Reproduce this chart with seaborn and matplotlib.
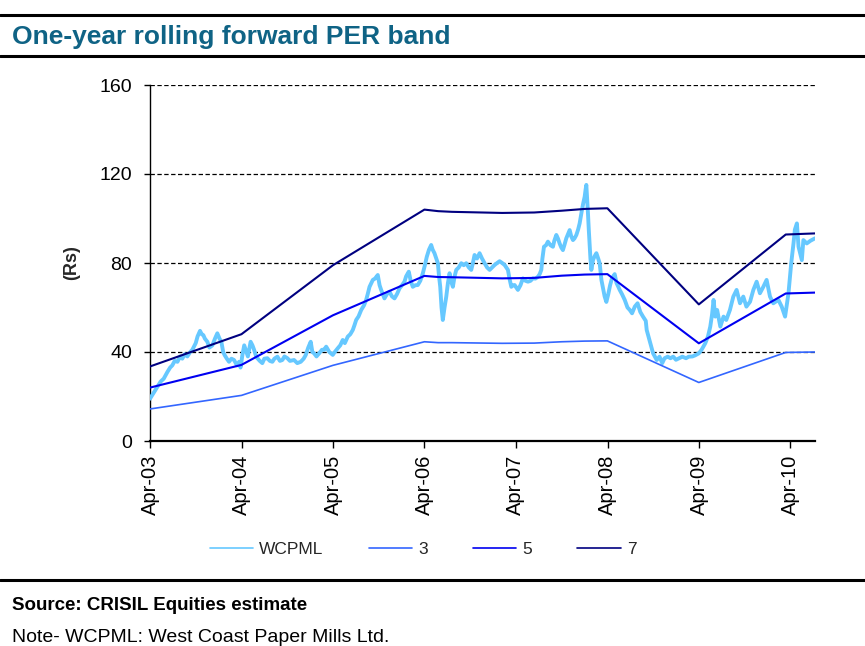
import numpy as np
import pandas as pd
import matplotlib
matplotlib.use("Agg")
import matplotlib.pyplot as plt
import matplotlib.dates as mdates
from matplotlib.lines import Line2D
import seaborn as sns

# ---------------- data ----------------
# time measured in years since Apr-2003
band_t = [0.0, 1.0, 2.0, 3.0, 3.15, 3.3, 3.85, 4.2, 4.5, 4.75, 5.0, 6.0, 6.95, 7.27]
band7 = [33.5, 48.0, 79.0, 104.0, 103.3, 103.0, 102.5, 102.7, 103.5, 104.3, 104.6, 61.4, 92.8, 93.3]
band5 = [24.0, 34.2, 56.5, 74.2, 73.7, 73.6, 73.1, 73.3, 74.3, 74.8, 75.0, 43.9, 66.3, 66.7]
band3 = [14.4, 20.5, 34.0, 44.6, 44.2, 44.2, 43.9, 44.0, 44.6, 44.9, 45.0, 26.3, 39.8, 40.0]

price_t = [0.00, 0.03, 0.06, 0.09, 0.116, 0.15, 0.19, 0.22, 0.244, 0.27, 0.30, 0.33, 0.353, 0.38,
           0.408, 0.44, 0.463, 0.5, 0.52, 0.547, 0.565, 0.583, 0.6, 0.627, 0.65, 0.682, 0.71,
           0.736, 0.76, 0.78, 0.80, 0.816, 0.84, 0.864, 0.89, 0.919, 0.95, 0.974, 0.99, 1.01,
           1.03, 1.046, 1.07, 1.1, 1.12, 1.138, 1.16, 1.174, 1.2, 1.228, 1.25, 1.283, 1.31,
           1.338, 1.36, 1.393, 1.42, 1.447, 1.47, 1.502, 1.53, 1.575, 1.61, 1.648, 1.68, 1.702,
           1.73, 1.757, 1.775, 1.794, 1.82, 1.849, 1.88, 1.904, 1.926, 1.96, 1.998, 2.02, 2.053,
           2.08, 2.107, 2.13, 2.162, 2.19, 2.217, 2.235, 2.254, 2.28, 2.309, 2.34, 2.363, 2.38,
           2.4, 2.42, 2.436, 2.46, 2.49, 2.51, 2.527, 2.545, 2.563, 2.59, 2.618, 2.645, 2.673,
           2.70, 2.728, 2.755, 2.782, 2.80, 2.829, 2.85, 2.873, 2.90, 2.928, 2.955, 2.983, 3.005,
           3.026, 3.05, 3.074, 3.09, 3.11, 3.13, 3.147, 3.16, 3.173, 3.187, 3.201, 3.22, 3.239,
           3.257, 3.275, 3.29, 3.311, 3.33, 3.348, 3.375, 3.403, 3.43, 3.457, 3.485, 3.512, 3.53,
           3.548, 3.575, 3.603, 3.63, 3.658, 3.685, 3.713, 3.74, 3.767, 3.795, 3.822, 3.85,
           3.877, 3.895, 3.913, 3.93, 3.95, 3.968, 3.986, 4.004, 4.022, 4.05, 4.077, 4.105,
           4.132, 4.16, 4.186, 4.214, 4.241, 4.26, 4.278, 4.29, 4.307, 4.33, 4.35, 4.378, 4.405,
           4.42, 4.442, 4.46, 4.478, 4.496, 4.514, 4.53, 4.551, 4.57, 4.588, 4.605, 4.624, 4.64,
           4.661, 4.68, 4.697, 4.71, 4.722, 4.737, 4.752, 4.762, 4.77, 4.779, 4.788, 4.797,
           4.806, 4.815, 4.825, 4.843, 4.86, 4.88, 4.90, 4.916, 4.935, 4.95, 4.97, 4.989, 5.01,
           5.03, 5.05, 5.08, 5.10, 5.12, 5.135, 5.16, 5.19, 5.22, 5.245, 5.27, 5.3, 5.33, 5.36,
           5.39, 5.42, 5.43, 5.47, 5.5, 5.54, 5.57, 5.6, 5.625, 5.66, 5.69, 5.72, 5.75, 5.785,
           5.82, 5.86, 5.89, 5.93, 5.96, 6.0, 6.03, 6.07, 6.1, 6.125, 6.145, 6.161, 6.18, 6.2,
           6.235, 6.27, 6.3, 6.34, 6.377, 6.413, 6.45, 6.486, 6.52, 6.56, 6.596, 6.632, 6.668,
           6.705, 6.741, 6.778, 6.814, 6.87, 6.906, 6.943, 6.98, 7.01, 7.035, 7.05, 7.072, 7.09,
           7.126, 7.143, 7.18, 7.22, 7.27]
price_v = [19, 21, 23, 25, 26.7, 28, 31, 33, 34, 36, 35.6, 38, 37, 39,
           38, 40, 41, 44, 47, 49.5, 48, 47.6, 46, 44.6, 42, 43, 46,
           48.4, 46, 44.6, 40, 38.6, 37, 35.6, 37, 36.4, 34, 35.6, 33, 38.6,
           43, 41, 38, 44.6, 43, 41, 38, 37.2, 36, 35, 37, 37.2, 36,
           35.6, 37, 37.9, 36, 36.4, 38, 37.2, 36, 36.4, 35, 35.6, 37, 38.6,
           42, 44.6, 40, 39.4, 38, 39.4, 41, 41, 42.4, 40, 38.7, 40, 41.7,
           43, 45.4, 44, 46.9, 48, 49.9, 52, 54.4, 56, 58.9, 61, 63.4, 66,
           69.3, 71, 72.4, 73, 74.6, 70, 67.9, 66, 64.1, 66, 67.1, 65, 64.1,
           66, 68.6, 70, 71.6, 74, 76.1, 72, 69.3, 70, 70.1, 72, 75.4, 79,
           82.8, 86, 88.1, 86, 84.4, 82, 79.9, 74, 69.3, 60, 54.4, 60, 64.9,
           71, 75.4, 72, 69.3, 74, 76.9, 78, 79.9, 79, 79.9, 78, 76.9, 80,
           83.6, 82, 84.4, 82, 79.9, 78, 76.9, 78, 79.1, 80, 80.8, 80,
           79.1, 78, 76.9, 73, 69.3, 70, 70.1, 69, 67.9, 70, 73.1, 72,
           71.6, 72, 73.1, 73, 73.8, 75, 76.9, 82, 87.3, 88, 89.6, 88, 87.3,
           90, 92.6, 91, 88.8, 87, 85.8, 88, 91.1, 93, 94.8, 92, 90.3, 91,
           92.6, 95, 97.8, 101, 103.8, 107, 109.8, 113, 115.1, 109, 102.3, 95,
           88.8, 82, 76.9, 81.3, 83, 84.4, 82, 79.9, 72.4, 69.3, 65, 62.5, 66,
           70, 73.1, 75, 71, 69.3, 67.9, 66, 63.4, 60, 58.9, 57.4, 60.4, 61.9, 58,
           55.9, 54, 49.9, 43.9, 39.4, 36.4, 37.9, 35, 37.2, 37.9, 37.2, 37.9, 36.5, 37.2,
           37.9, 37.2, 37.9, 38, 38.5, 39.4, 41, 43.9, 47, 51.4, 57, 63.4, 55.9, 58.9,
           51.4, 55.9, 54.4, 58.9, 64.9, 67.9, 61.9, 64.9, 60.4, 62.6, 67.9, 71.6, 66.4,
           69.3, 72.4, 64.9, 61.9, 63.4, 60.4, 55.9, 66.4, 79.9, 88.8, 95, 97.8, 87.3,
           81.3, 90.3, 88.8, 90, 91.1]

series_names = ["WCPML", "3", "5", "7"]
y_ticks = [0, 40, 80, 120, 160]
x_tick_years = [2003, 2004, 2005, 2006, 2007, 2008, 2009, 2010]

title_text = "One-year rolling forward PER band"
source_text = "Source: CRISIL Equities estimate"
note_text = "Note- WCPML: West Coast Paper Mills Ltd."

# ---------------- build frames ----------------
origin = pd.Timestamp("2003-04-01")
def to_dates(ts):
    return origin + pd.to_timedelta(np.array(ts) * 365.25, unit="D")

df_price = pd.DataFrame({"date": to_dates(price_t), "value": price_v})
df_b3 = pd.DataFrame({"date": to_dates(band_t), "value": band3})
df_b5 = pd.DataFrame({"date": to_dates(band_t), "value": band5})
df_b7 = pd.DataFrame({"date": to_dates(band_t), "value": band7})

sns.set_style("white")
plt.rcParams["font.family"] = ["Liberation Sans", "DejaVu Sans"]

fig = plt.figure(figsize=(8.65, 6.46), dpi=100)
ax = fig.add_axes([150 / 865, 1 - 441 / 646, 665 / 865, 356 / 646])

colors = {"WCPML": "#66C8FF", "3": "#3366FF", "5": "#0000F0", "7": "#000080"}
widths = {"WCPML": 2.8, "3": 1.2, "5": 1.5, "7": 1.5}

sns.lineplot(data=df_price, x="date", y="value", ax=ax, color=colors["WCPML"],
             linewidth=widths["WCPML"], estimator=None, sort=False, zorder=3)
sns.lineplot(data=df_b3, x="date", y="value", ax=ax, color=colors["3"],
             linewidth=widths["3"], estimator=None, sort=False, zorder=4)
sns.lineplot(data=df_b5, x="date", y="value", ax=ax, color=colors["5"],
             linewidth=widths["5"], estimator=None, sort=False, zorder=4)
sns.lineplot(data=df_b7, x="date", y="value", ax=ax, color=colors["7"],
             linewidth=widths["7"], estimator=None, sort=False, zorder=4)

# axes styling
ax.set_ylim(0, 160)
ax.set_xlim(origin, origin + pd.Timedelta(days=7.27 * 365.25))
ax.set_yticks(y_ticks)
ax.set_yticklabels([str(v) for v in y_ticks], fontsize=14)
for yv in y_ticks[1:]:
    ax.axhline(yv, color="black", linestyle=(0, (3.5, 2)), linewidth=0.9, zorder=1)

ax.set_xticks([pd.Timestamp(f"{y}-04-01") for y in x_tick_years])
ax.xaxis.set_major_formatter(mdates.DateFormatter("%b-%y"))
plt.setp(ax.get_xticklabels(), rotation=90, fontsize=14.5)

for s in ["top", "right"]:
    ax.spines[s].set_visible(False)
for s in ["left", "bottom"]:
    ax.spines[s].set_color("black")
ax.spines["left"].set_linewidth(1.0)
ax.spines["bottom"].set_linewidth(1.6)
ax.tick_params(axis="both", which="both", direction="out", length=4, width=1,
               color="black", labelcolor="black", left=True, bottom=True)
ax.tick_params(axis="y", pad=9)
ax.tick_params(axis="x", length=5, pad=5)
ax.set_xlabel("")
ax.set_ylabel("(Rs)", fontsize=13, fontweight="bold", labelpad=14)

# legend
handles = [Line2D([0], [0], color=colors[n], linewidth=1.2) for n in series_names]
fig.legend(handles, series_names, loc="center", bbox_to_anchor=(423 / 865, 1 - 549 / 646),
           ncol=4, frameon=False, fontsize=12.5, handlelength=2.5, handletextpad=0.35,
           columnspacing=2.6)

# header / footer
for yy, lw in [(15, 2.2), (56, 2.2), (580, 2.2)]:
    fig.add_artist(Line2D([0, 1], [1 - yy / 646, 1 - yy / 646], color="black",
                          linewidth=lw, transform=fig.transFigure))
fig.text(12 / 865, 1 - 37 / 646, title_text, fontsize=19, fontweight="bold",
         color="#0F6385", va="center", ha="left")
fig.text(12 / 865, 1 - 605 / 646, source_text, fontsize=13.5, fontweight="bold",
         color="black", va="center", ha="left")
fig.text(12 / 865, 1 - 638 / 646, note_text, fontsize=14,
         color="black", va="center", ha="left")

fig.savefig("out.png", dpi=100)
